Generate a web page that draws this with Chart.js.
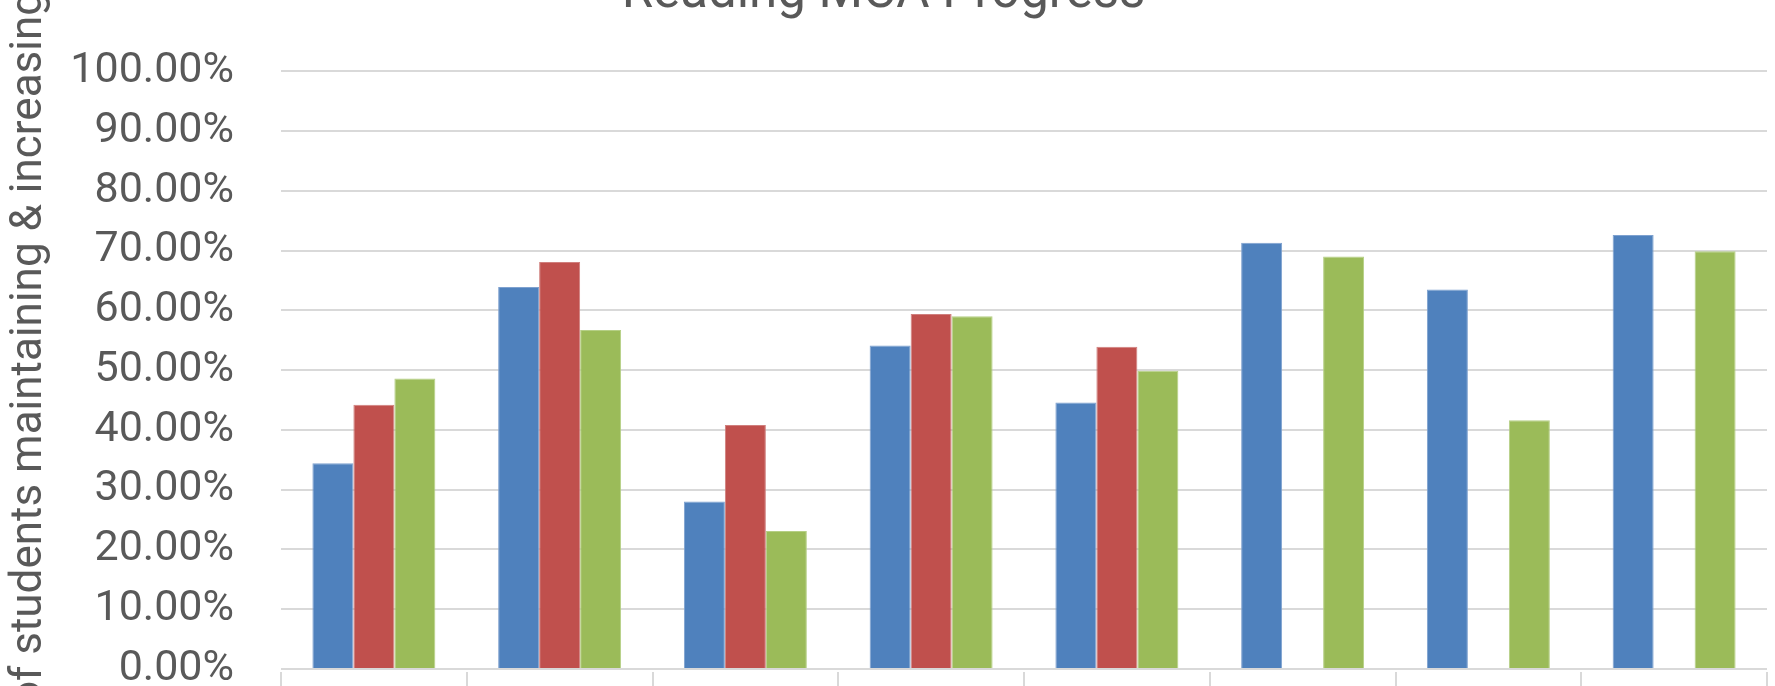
<!DOCTYPE html>
<html>
<head>
<meta charset="utf-8">
<script src="https://cdn.jsdelivr.net/npm/chart.js@4"></script>
<style>
  html, body { margin: 0; padding: 0; background: #ffffff; overflow: hidden; }
  #view { position: relative; width: 1775px; height: 686px; overflow: hidden; background: #fff; }
  #wrap { position: absolute; left: 0; top: -60px; width: 1775px; height: 846px; }
</style>
</head>
<body>
<div id="view"><div id="wrap"><canvas id="c"></canvas></div></div>
<script>
const titleText = 'Reading MCA Progress';
const yAxisTitle = '% of students maintaining & increasing';
const categories = ['1', '2', '3', '4', '5', '6', '7', '8'];
const seriesNames = ['Series 1', 'Series 2', 'Series 3'];
const blueValues = [34.4, 63.9, 28.0, 54.1, 44.6, 71.3, 63.5, 72.6];
const redValues = [44.2, 68.1, 40.8, 59.4, 53.9, null, null, null];
const greenValues = [48.6, 56.7, 23.1, 59.0, 49.9, 69.0, 41.6, 69.9];
const yTickValues = [0, 10, 20, 30, 40, 50, 60, 70, 80, 90, 100];

const FONT = 'Roboto, "Liberation Sans", sans-serif';
const GRAY = '#595959';
const GRID = '#d9d9d9';

new Chart(document.getElementById('c'), {
  type: 'bar',
  data: {
    labels: categories,
    datasets: [
      { label: seriesNames[0], data: blueValues, backgroundColor: '#4f81bd', borderColor: '#7ea1cf', borderWidth: 1 },
      { label: seriesNames[1], data: redValues, backgroundColor: '#c0504d', borderColor: '#d07f7d', borderWidth: 1 },
      { label: seriesNames[2], data: greenValues, backgroundColor: '#9bbb59', borderColor: '#b5cf85', borderWidth: 1 }
    ]
  },
  options: {
    responsive: true,
    maintainAspectRatio: false,
    animation: false,
    datasets: { bar: { categoryPercentage: 0.662, barPercentage: 1.0 } },
    layout: { padding: { top: 0, right: 8, bottom: 0, left: 0 } },
    plugins: {
      legend: { display: false },
      tooltip: { enabled: false },
      title: {
        display: true,
        text: titleText,
        color: GRAY,
        font: { family: FONT, size: 51, weight: 'normal', lineHeight: 1.2 },
        padding: { top: 24, bottom: 46 }
      }
    },
    scales: {
      y: {
        min: 0, max: 100,
        afterFit: (s) => { s.width = 281; },
        afterBuildTicks: (s) => { s.ticks = yTickValues.map(v => ({ value: v })); },
        ticks: {
          color: GRAY,
          padding: 47,
          autoSkip: false,
          font: { family: FONT, size: 43 },
          callback: (v) => Number(v).toFixed(2) + '%'
        },
        grid: { color: GRID, lineWidth: 2, drawTicks: false },
        border: { display: false },
        title: {
          display: true,
          text: yAxisTitle,
          color: GRAY,
          padding: { top: 8, bottom: 0 },
          font: { family: FONT, size: 44, lineHeight: 1.0 }
        }
      },
      x: {
        afterFit: (s) => { s.height = 117; },
        ticks: { color: GRAY, padding: 10, font: { family: FONT, size: 40 } },
        grid: { offset: true, drawOnChartArea: false, drawTicks: true, tickLength: 60, color: GRID, lineWidth: 2 },
        border: { display: true, width: 6, color: 'rgba(0,0,0,0)' }
      }
    }
  }
});
</script>
</body>
</html>
